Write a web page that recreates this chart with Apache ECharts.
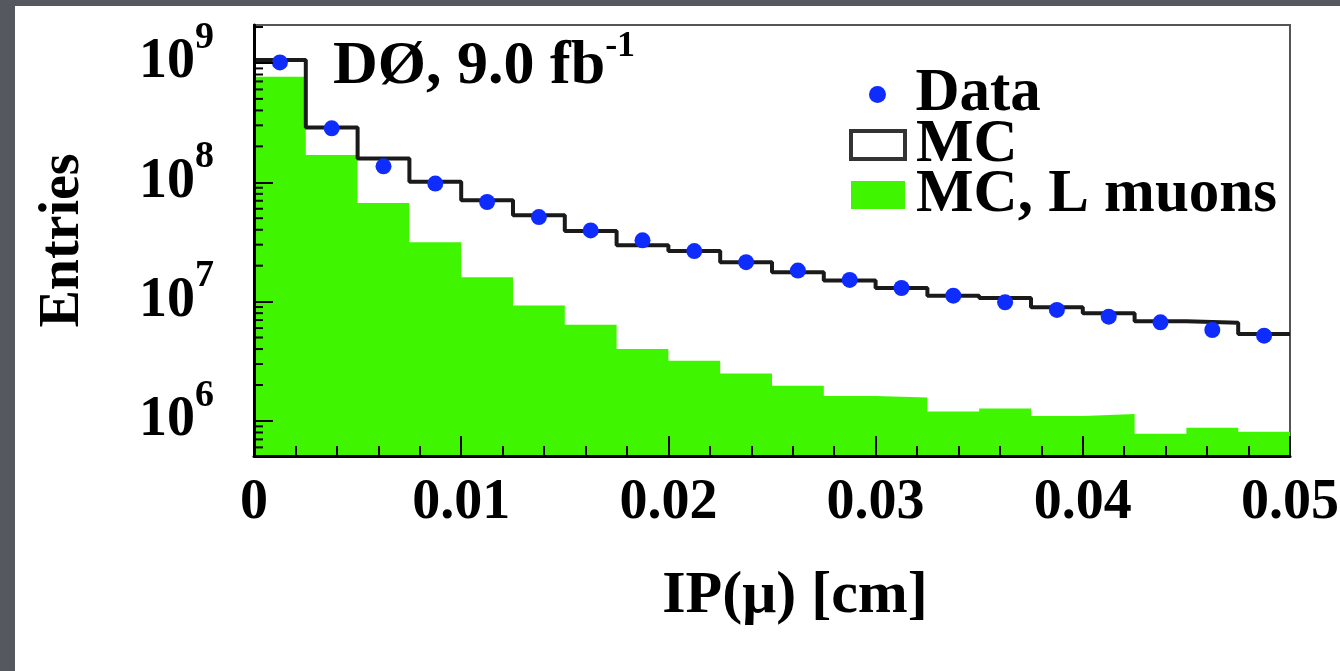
<!DOCTYPE html>
<html><head><meta charset="utf-8">
<script src="https://cdn.jsdelivr.net/npm/echarts@6/dist/echarts.min.js"></script>
<style>
html,body{margin:0;padding:0;width:1340px;height:671px;overflow:hidden;background:#55585e;}
#panel{position:absolute;left:15px;top:6px;right:0;bottom:0;background:#fff;}
#chart{position:absolute;left:0;top:0;width:1340px;height:671px;}
</style></head><body>
<div id="panel"></div><div id="chart"></div>
<script>
// Bin edges (cm) and bin centres
const binEdges = [0, 0.0025, 0.005, 0.0075, 0.01, 0.0125, 0.015, 0.0175, 0.02, 0.0225, 0.025,
  0.0275, 0.03, 0.0325, 0.035, 0.0375, 0.04, 0.0425, 0.045, 0.0475, 0.05];
const binCenters = [0.00125, 0.00375, 0.00625, 0.00875, 0.01125, 0.01375, 0.01625, 0.01875, 0.02125, 0.02375,
  0.02625, 0.02875, 0.03125, 0.03375, 0.03625, 0.03875, 0.04125, 0.04375, 0.04625, 0.04875];
// Series values (entries per bin)
const dataValues = [1.01e9, 2.83e8, 1.36e8, 9.75e7, 6.83e7, 5.11e7, 3.95e7, 3.26e7, 2.65e7, 2.14e7,
  1.82e7, 1.52e7, 1.30e7, 1.12e7, 9.87e6, 8.51e6, 7.48e6, 6.70e6, 5.78e6, 5.18e6];
const mcValues = [1.06e9, 2.88e8, 1.58e8, 1.01e8, 7.06e7, 5.28e7, 3.90e7, 2.96e7, 2.65e7, 2.14e7,
  1.76e7, 1.50e7, 1.30e7, 1.12e7, 1.07e7, 8.96e6, 7.97e6, 6.83e6, 6.66e6, 5.35e6];
const mcLMuonValues = [7.67e8, 1.69e8, 6.70e7, 3.15e7, 1.60e7, 9.26e6, 6.41e6, 4.00e6, 3.19e6, 2.50e6,
  1.97e6, 1.62e6, 1.57e6, 1.20e6, 1.27e6, 1.10e6, 1.14e6, 7.82e5, 8.78e5, 8.13e5];
// Tick labels / axis decorations
const xTickLabels = ['0', '0.01', '0.02', '0.03', '0.04', '0.05'];
const yMinorTicks = [6e5, 7e5, 8e5, 9e5, 2e6, 3e6, 4e6, 5e6, 6e6, 7e6, 8e6, 9e6,
  2e7, 3e7, 4e7, 5e7, 6e7, 7e7, 8e7, 9e7, 2e8, 3e8, 4e8, 5e8, 6e8, 7e8, 8e8, 9e8, 2e9];
const yMin = 5.08e5, yMax = 2.08e9;

function stepData(vals) {
  return binEdges.map((e, i) => [e, vals[Math.min(i, vals.length - 1)]]);
}

const FONT = 'Liberation Serif';
const legendText = {fontFamily: FONT, fontWeight: 'bold', fontSize: 61, color: '#000', lineHeight: 50,
  padding: [0, 0, 12, 6]};
const chart = echarts.init(document.getElementById('chart'), null, {renderer: 'canvas'});
chart.setOption({
  backgroundColor: 'transparent',
  animation: false,
  grid: {left: 254, right: 50, top: 25, bottom: 215, show: true, borderColor: '#555', borderWidth: 2,
    containLabel: false, outerBoundsMode: 'none'},
  legend: [
    {data: [{name: 'Data', icon: 'circle'}], orient: 'vertical', left: 869, top: 64, padding: 0,
      itemWidth: 54, itemHeight: 17, selectedMode: false,
      textStyle: Object.assign({}, legendText, {padding: [0, 0, 0, 6]})},
    {data: [
        {name: 'MC', icon: 'rect', itemStyle: {color: '#fff', borderColor: '#333', borderWidth: 4}},
        {name: 'MC, L muons', icon: 'rect', itemStyle: {color: '#3ff600', borderWidth: 0}}],
      orient: 'vertical', left: 849, top: 114, padding: 0, itemGap: -12,
      itemWidth: 54, itemHeight: 28, selectedMode: false, textStyle: legendText}
  ],
  xAxis: {
    type: 'value', min: 0, max: 0.05, interval: 0.01, z: 10,
    name: 'IP(\u03bc) [cm]', nameLocation: 'middle', nameGap: 110,
    nameTextStyle: {fontFamily: FONT, fontWeight: 'bold', fontSize: 60, color: '#000', padding: [0, 0, 0, 46]},
    axisLine: {show: true, onZero: false, lineStyle: {color: '#000', width: 3}},
    axisTick: {show: true, inside: true, length: 20, lineStyle: {color: '#000', width: 2}},
    minorTick: {show: true, splitNumber: 5, length: 10, lineStyle: {color: '#000', width: 2}},
    splitLine: {show: false},
    axisLabel: {margin: 20, fontFamily: FONT, fontWeight: 'bold', fontSize: 56, color: '#000',
      showMinLabel: true, showMaxLabel: true, hideOverlap: false,
      formatter: (v) => xTickLabels[Math.round(v / 0.01)]}
  },
  yAxis: {
    type: 'log', logBase: 10, min: yMin, max: yMax, z: 10,
    name: 'Entries', nameLocation: 'middle', nameRotate: 90, nameGap: 162,
    nameTextStyle: {fontFamily: FONT, fontWeight: 'bold', fontSize: 56, color: '#000'},
    axisLine: {show: true, lineStyle: {color: '#000', width: 3}},
    axisTick: {show: true, inside: true, length: 19, lineStyle: {color: '#000', width: 2}},
    splitLine: {show: false},
    axisLabel: {margin: 40, showMinLabel: false, showMaxLabel: false, hideOverlap: false,
      formatter: (v) => {
        const e = Math.round(Math.log10(v));
        return '{b|10}{s|' + e + '}';
      },
      rich: {
        b: {fontFamily: FONT, fontWeight: 'bold', fontSize: 56, color: '#000'},
        s: {fontFamily: FONT, fontWeight: 'bold', fontSize: 38, color: '#000', padding: [0, 0, 50, 0]}
      }
    }
  },
  graphic: [{
    type: 'text', x: 333, y: 67, z: 20,
    style: {
      text: '{m|D\u00d8, 9.0 fb}{s|-1}', verticalAlign: 'middle',
      rich: {
        m: {fontFamily: FONT, fontWeight: 'bold', fontSize: 62, fill: '#000'},
        s: {fontFamily: FONT, fontWeight: 'bold', fontSize: 36, fill: '#000', padding: [0, 0, 40, 0]}
      }
    }
  }],
  series: [
    {name: 'MC, L muons', type: 'line', step: 'end', data: stepData(mcLMuonValues), showSymbol: false,
      symbol: 'none', lineStyle: {width: 0, color: '#3ff600'}, itemStyle: {color: '#3ff600'},
      areaStyle: {color: '#3ff600', opacity: 1, origin: 'start'}, z: 1, silent: true},
    {name: 'MC', type: 'line', step: 'end', data: stepData(mcValues), showSymbol: false, symbol: 'none',
      lineStyle: {width: 4, color: '#1a1a1a'}, itemStyle: {color: '#1a1a1a'}, z: 2, silent: true},
    {name: 'Data', type: 'scatter', data: binCenters.map((x, i) => [x, dataValues[i]]),
      symbol: 'circle', symbolSize: 16, itemStyle: {color: '#0f2cff', opacity: 1}, z: 3, silent: true},
    {name: 'yminor', type: 'custom', data: yMinorTicks.map(v => [0, v]), z: 11, silent: true,
      renderItem: (params, api) => {
        const p = api.coord([api.value(0), api.value(1)]);
        return {type: 'line', shape: {x1: p[0], y1: p[1], x2: p[0] + 9, y2: p[1]},
          style: {stroke: '#000', lineWidth: 2}};
      }}
  ]
});
</script>
</body></html>
